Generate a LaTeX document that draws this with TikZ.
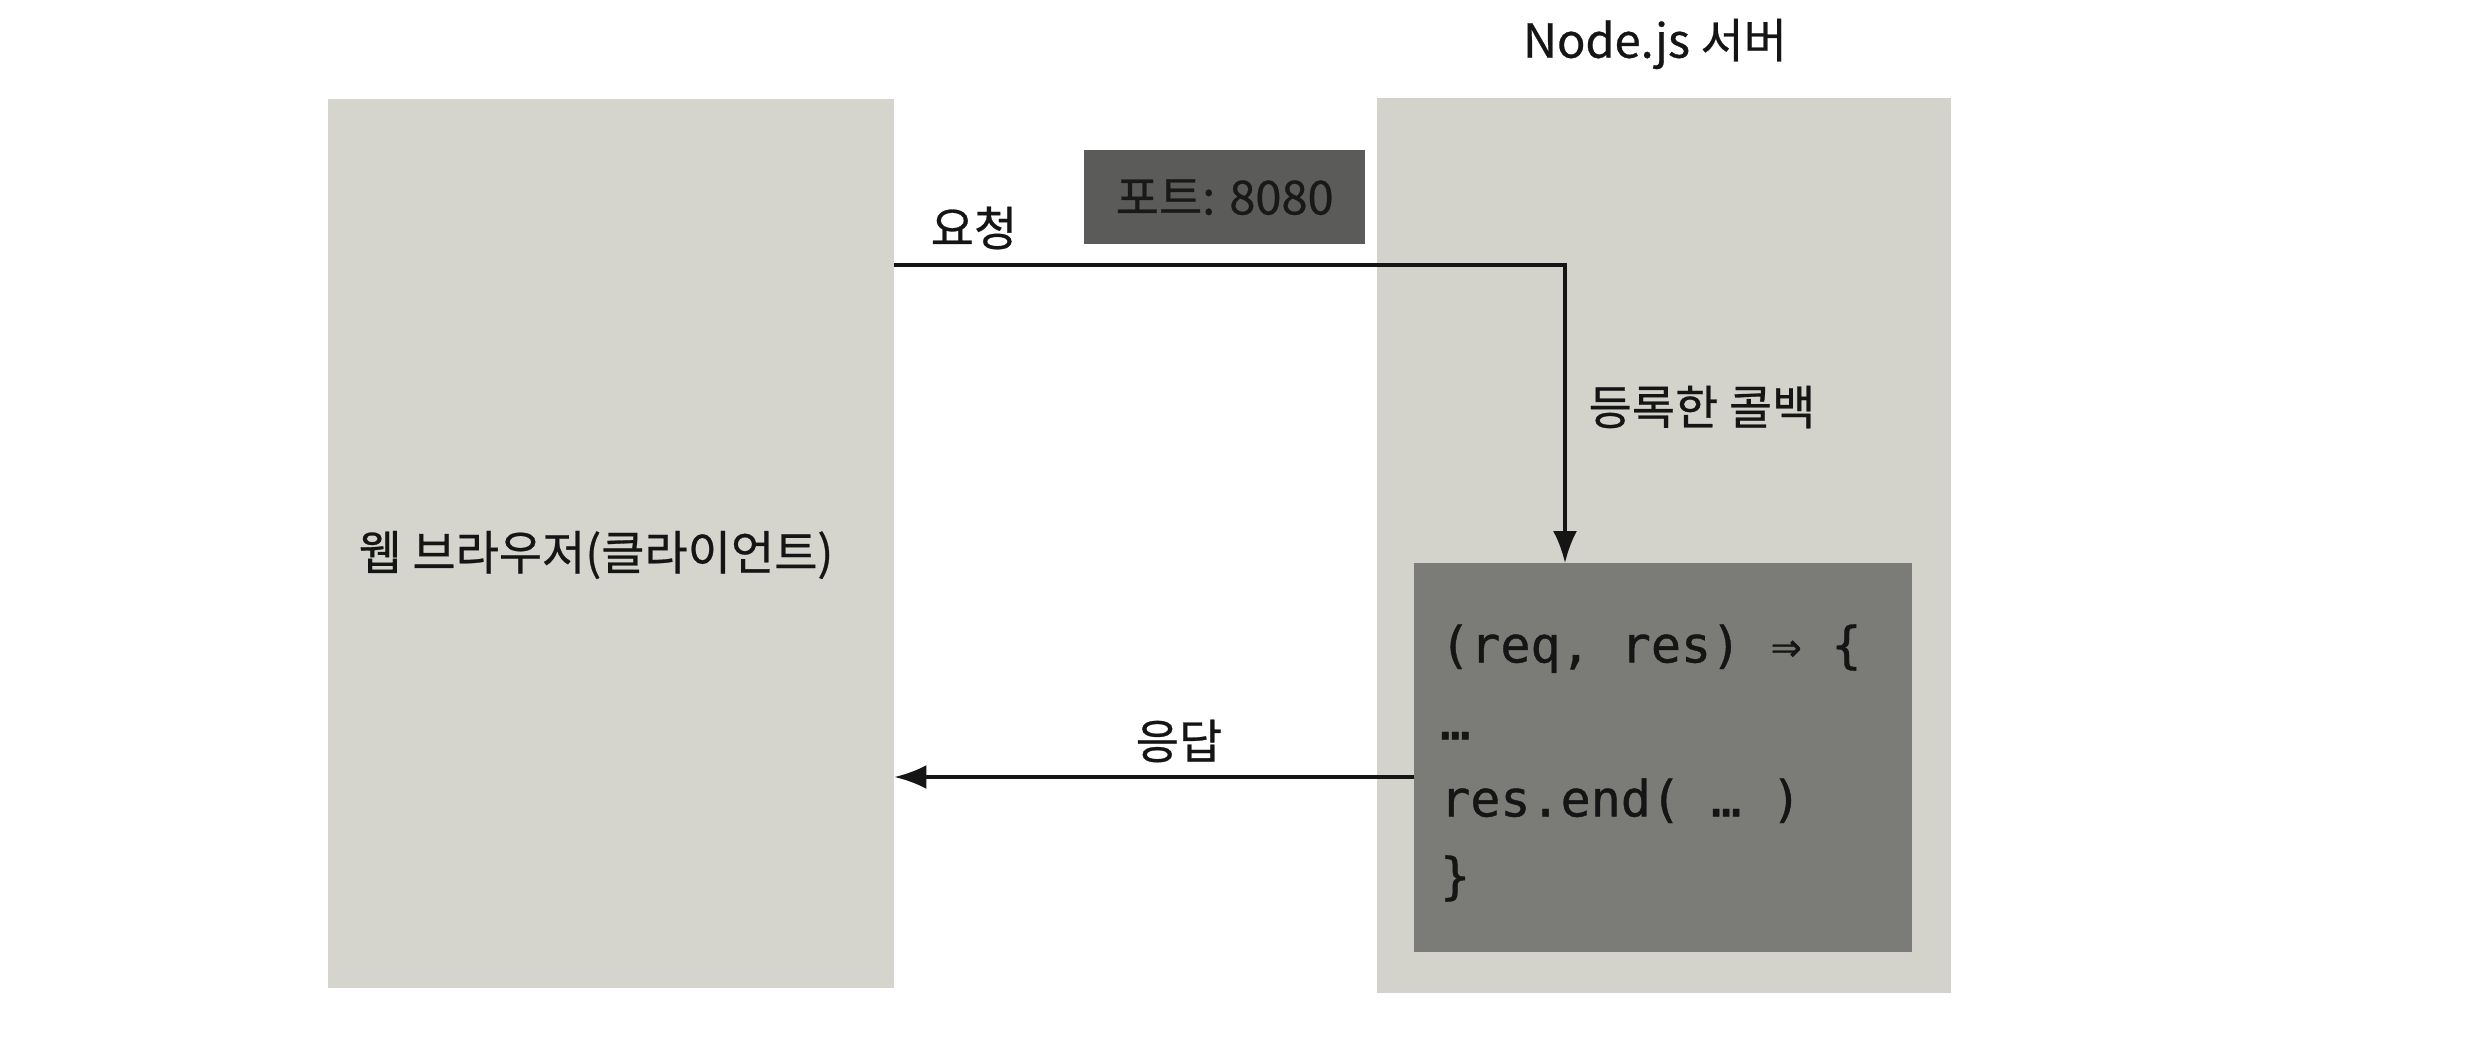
\documentclass[tikz,border=0pt]{standalone}
\usepackage{fontspec}
\setmainfont{Noto Sans CJK KR}[FakeBold=0.6]
\newfontfamily\codefont{DejaVu Sans Mono}[FakeBold=0.8]
\usetikzlibrary{arrows.meta}
\definecolor{clientgrey}{HTML}{D5D5CE}
\definecolor{servergrey}{HTML}{D3D3CB}
\definecolor{codegrey}{HTML}{7B7B77}
\definecolor{portgrey}{HTML}{5B5B59}
\definecolor{inkc}{HTML}{151515}
\begin{document}
\begin{tikzpicture}[x=1pt,y=-1pt,
  panel/.style={draw=none, inner sep=0pt, anchor=north west},
  lbl/.style={text=inkc, font=\fontsize{47}{54}\selectfont, inner sep=0pt},
  conn/.style={draw=inkc, line width=3.5pt, -{Latex[length=32pt,width=24pt]}},
  codetxt/.style={text=inkc, font=\codefont\fontsize{50}{77}\selectfont, align=left, inner sep=0pt, anchor=west}
]
\useasboundingbox (0,0) rectangle (2471,1038);
\fill[white] (0,0) rectangle (2471,1038);

% panels
\node[panel, fill=clientgrey, minimum width=566pt, minimum height=889pt] (client) at (328,99) {};
\node[panel, fill=servergrey, minimum width=574pt, minimum height=895pt] (server) at (1377,98) {};
\node[panel, fill=codegrey, minimum width=498pt, minimum height=389pt] (code) at (1414,563) {};
\node[panel, fill=portgrey, minimum width=281pt, minimum height=94pt] (port) at (1084,150) {};

% texts
\node[lbl] (clienttxt) at (596,555) {웹 브라우저(클라이언트)};
\node[lbl] (servertxt) at (1655,44) {Node.js 서버};
\node[lbl, text=black!90] (porttxt) at (port.center) {포트: 8080};
\node[codetxt] (codetext) at (1440,763) {(req, res) ⇒ \{\\…\\res.end( … )\\\}};

% connectors
\coordinate (reqbend) at (1565,265);
\coordinate (respy) at (0,777);
\draw[conn] (client.east |- reqbend) -- (reqbend) -- (code.north -| reqbend);
\draw[conn] (code.west |- respy) -- (client.east |- respy);

% connector labels
\node[lbl] (reqlbl) at (974,228) {요청};
\node[lbl] (cblbl) at (1702,407) {등록한 콜백};
\node[lbl] (resplbl) at (1179,741) {응답};
\end{tikzpicture}
\end{document}
